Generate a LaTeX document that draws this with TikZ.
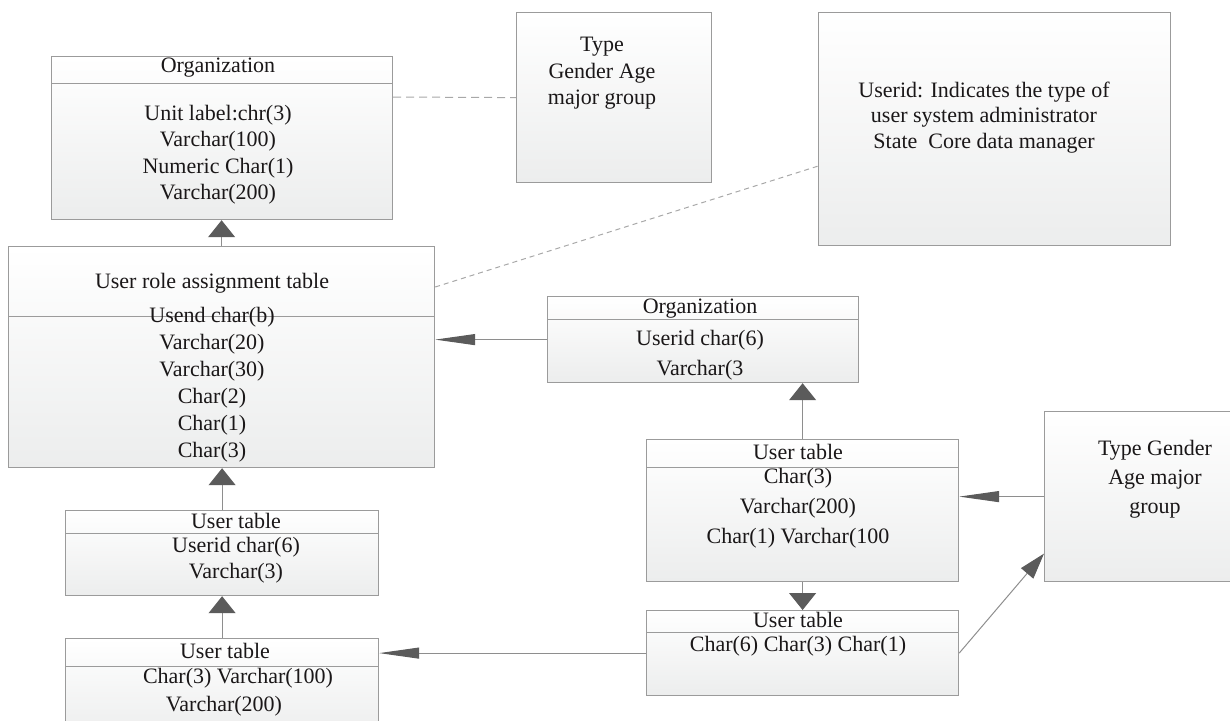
\documentclass[tikz,border=0pt]{standalone}
\usepackage{fontspec}
\setmainfont{Liberation Serif}
\usetikzlibrary{arrows.meta}
\definecolor{boxline}{HTML}{9B9B9B}
\definecolor{boxfill}{HTML}{ECEDED}
\definecolor{ink}{HTML}{1A1718}
\definecolor{wire}{HTML}{8E8E8E}
\definecolor{tipgray}{HTML}{5B5B5B}
\definecolor{dashgray}{HTML}{A8A8A8}
\tikzset{
  tbl/.style={draw=boxline, line width=1.2pt, top color=white, bottom color=boxfill, anchor=north west, inner sep=0pt},
  txt/.style={font=\fontsize{22}{26.5}\selectfont, text=ink, align=center, inner sep=0pt},
  wide/.style={font=\fontsize{22}{30}\selectfont},
  rule/.style={draw=boxline, line width=1pt},
  vlink/.style={draw=wire, line width=1pt, -{Triangle[length=17pt,width=27pt,color=tipgray,fill=tipgray]}},
  hlink/.style={draw=wire, line width=1pt, -{Triangle[length=40pt,width=11pt,color=tipgray,fill=tipgray]}},
  slink/.style={draw=wire, line width=1pt, -{Triangle[length=26pt,width=16pt,color=tipgray,fill=tipgray]}},
  notelink/.style={draw=dashgray, line width=1pt, dash pattern=on 8pt off 5pt},
}
\begin{document}
\begin{tikzpicture}[x=1pt,y=-1pt]
\useasboundingbox (0,0) rectangle (1230,720);
\clip (0,0) rectangle (1230,720);

% tables and notes
\node[tbl, minimum width=341pt, minimum height=163pt] (org) at (51,56) {};
\node[tbl, minimum width=195pt, minimum height=170pt] (kind) at (516,12) {};
\node[tbl, minimum width=352pt, minimum height=233pt] (note) at (818,12) {};
\node[tbl, minimum width=426pt, minimum height=221pt] (role) at (8,246) {};
\node[tbl, minimum width=311pt, minimum height=86pt] (org2) at (547,296) {};
\node[tbl, minimum width=312pt, minimum height=142pt] (user2) at (646,439) {};
\node[tbl, minimum width=222pt, minimum height=170pt] (kind2) at (1044,411) {};
\node[tbl, minimum width=312pt, minimum height=85pt] (user3) at (646,610) {};
\node[tbl, minimum width=313pt, minimum height=85pt] (user1) at (65,510) {};
\node[tbl, minimum width=313pt, minimum height=100pt] (user4) at (65,638) {};

% header lines
\draw[rule] ([yshift=-27pt]org.north west) -- ([yshift=-27pt]org.north east);
\draw[rule] ([yshift=-70pt]role.north west) -- ([yshift=-70pt]role.north east);
\draw[rule] ([yshift=-23pt]org2.north west) -- ([yshift=-23pt]org2.north east);
\draw[rule] ([yshift=-28pt]user2.north west) -- ([yshift=-28pt]user2.north east);
\draw[rule] ([yshift=-22pt]user3.north west) -- ([yshift=-22pt]user3.north east);
\draw[rule] ([yshift=-23pt]user1.north west) -- ([yshift=-23pt]user1.north east);
\draw[rule] ([yshift=-28pt]user4.north west) -- ([yshift=-28pt]user4.north east);

% texts
\node[txt] (orgT) at (218,68) {Organization};
\node[txt] (orgB) at (218,154.5) {Unit label:chr(3)\\Varchar(100)\\Numeric Char(1)\\Varchar(200)};
\node[txt] (kindT) at (602,73.5) {Type\\Gender Age\\major group};
\node[txt, font=\fontsize{22}{25.5}\selectfont] (noteT) at (984,117.5) {Userid: Indicates the type of\\user system administrator\\State\ \ Core data manager};
\node[txt] (roleT) at (212,283) {User role assignment table};
\node[txt, font=\fontsize{22}{27}\selectfont] (roleB) at (212,384.5) {Usend char(b)\\Varchar(20)\\Varchar(30)\\Char(2)\\Char(1)\\Char(3)};
\node[txt] (org2T) at (700,309) {Organization};
\node[txt, wide] (org2B) at (700,355) {Userid char(6)\\Varchar(3};
\node[txt] (user2T) at (798,452) {User table};
\node[txt, wide] (user2B) at (798,508) {Char(3)\\Varchar(200)\\Char(1) Varchar(100};
\node[txt, font=\fontsize{22}{29}\selectfont] (kind2T) at (1155,479) {Type Gender\\Age major\\group};
\node[txt] (user3T) at (798,620) {User table};
\node[txt] (user3B) at (798,646) {Char(6) Char(3) Char(1)};
\node[txt] (user1T) at (236,521) {User table};
\node[txt, font=\fontsize{22}{26}\selectfont] (user1B) at (236,560) {Userid char(6)\\Varchar(3)};
\node[txt] (user4T) at (225,651) {User table};
\node[txt] (user4a) at (238,678) {Char(3) Varchar(100)};
\node[txt] (user4b) at (224,706) {Varchar(200)};

% connectors
\draw[vlink] (role.north) -- (role.north |- org.south);
\draw[vlink] (user1.north) -- (user1.north |- role.south);
\draw[vlink] (user4.north) -- (user1.south);
\draw[hlink] (org2.west) -- (org2.west -| role.east);
\draw[vlink] (user2.north) -- (user2.north |- org2.south);
\draw[hlink] (kind2.west) -- (kind2.west -| user2.east);
\draw[vlink] (user2.south) -- (user3.north);
\draw[hlink] (user3.west) -- (user3.west -| user4.east);
\draw[slink] (user3.east) -- ([yshift=-57pt]kind2.west);

% notes
\draw[notelink] ([yshift=-41pt]org.north east) -- (kind.west);
\draw[notelink, dash pattern=on 5pt off 4pt] ([yshift=-41pt]role.north east) -- ([yshift=-37pt]note.west);
\end{tikzpicture}
\end{document}
